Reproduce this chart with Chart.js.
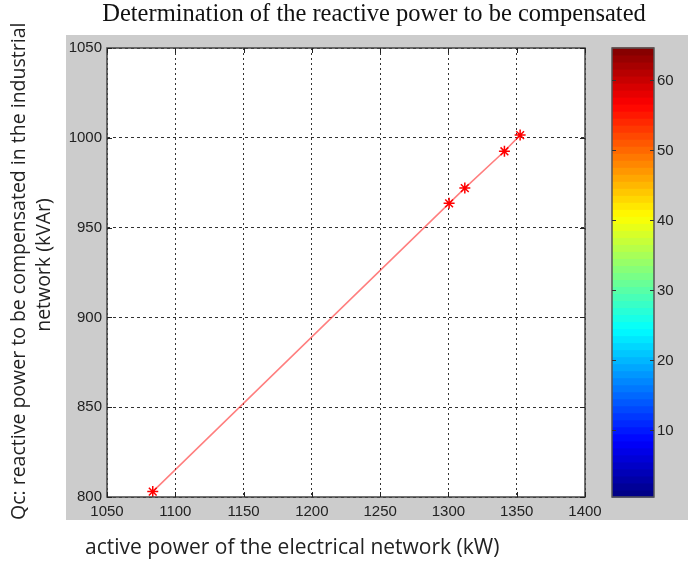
<!DOCTYPE html>
<html>
<head>
<meta charset="utf-8">
<script src="https://cdn.jsdelivr.net/npm/chart.js@4.4.0/dist/chart.umd.min.js"></script>
<style>
  html, body { margin: 0; padding: 0; background: #fff; }
  #wrap { width: 688px; height: 562px; }
</style>
</head>
<body>
<div id="wrap"><canvas id="qc-chart" width="688" height="562"></canvas></div>
<script>
// measured points (kW, kVAr)
const activePower = [1083.5, 1300.5, 1312, 1341, 1352.5];
const reactivePower = [803, 963.5, 972, 992.5, 1001.5];

const xTicks = [1050, 1100, 1150, 1200, 1250, 1300, 1350, 1400];
const yTicks = [800, 850, 900, 950, 1000, 1050];

// colorbar (jet, 64 levels)
const colorLevels = 64;
const colorTicks = [10, 20, 30, 40, 50, 60];

const titleText = 'Determination of the reactive power to be compensated';
const yLabel = ['Qc: reactive power to be compensated in the industrial', 'network (kVAr)'];
const xLabel = 'active power of the electrical network (kW)';

function jet(i, n) {
    const t = (i + 0.5) / n;
    const c = v => Math.round(255 * Math.max(0, Math.min(1, v)));
    const r = c(1.5 - Math.abs(4 * t - 3));
    const g = c(1.5 - Math.abs(4 * t - 2));
    const b = c(1.5 - Math.abs(4 * t - 1));
    return `rgb(${r},${g},${b})`;
}

const figure = {
    id: 'figure',
    beforeDraw(chart) {
        const ctx = chart.ctx;
        ctx.save();
        ctx.fillStyle = '#fff';
        ctx.fillRect(0, 0, chart.width, chart.height);
        ctx.fillStyle = '#cccccc';
        ctx.fillRect(66, 35, chart.width - 66, 485);
        const a = chart.chartArea;
        ctx.fillStyle = '#fff';
        ctx.fillRect(a.left, a.top, a.right - a.left, a.bottom - a.top);
        ctx.restore();
    },
    afterDraw(chart) {
        const ctx = chart.ctx;
        const a = chart.chartArea;
        const xs = chart.scales.x, ys = chart.scales.y;
        ctx.save();

        // axes box + inner ticks
        ctx.strokeStyle = '#444';
        ctx.lineWidth = 1.5;
        ctx.strokeRect(a.left, a.top, a.right - a.left, a.bottom - a.top);
        ctx.lineWidth = 1;
        ctx.strokeStyle = '#222';
        ctx.beginPath();
        xTicks.forEach(v => {
            const x = Math.round(xs.getPixelForValue(v)) + 0.5;
            ctx.moveTo(x, a.bottom); ctx.lineTo(x, a.bottom - 5);
            ctx.moveTo(x, a.top); ctx.lineTo(x, a.top + 5);
        });
        yTicks.forEach(v => {
            const y = Math.round(ys.getPixelForValue(v)) + 0.5;
            ctx.moveTo(a.left, y); ctx.lineTo(a.left + 5, y);
            ctx.moveTo(a.right, y); ctx.lineTo(a.right - 5, y);
        });
        ctx.stroke();

        // colorbar
        const cbL = 612, cbR = 654, cbT = a.top, cbB = a.bottom;
        const band = (cbB - cbT) / colorLevels;
        for (let i = 0; i < colorLevels; i++) {
            ctx.fillStyle = jet(i, colorLevels);
            ctx.fillRect(cbL, cbB - (i + 1) * band - 0.5, cbR - cbL, band + 1);
        }
        ctx.strokeStyle = '#555';
        ctx.lineWidth = 1.5;
        ctx.strokeRect(cbL, cbT, cbR - cbL, cbB - cbT);
        ctx.lineWidth = 1;
        ctx.strokeStyle = '#333';
        ctx.fillStyle = '#222';
        ctx.font = '15px "Liberation Sans", Arial, sans-serif';
        ctx.textAlign = 'left';
        ctx.textBaseline = 'middle';
        colorTicks.forEach(v => {
            const y = Math.round(cbB - (v - 0.5) / colorLevels * (cbB - cbT)) + 0.5;
            ctx.beginPath();
            ctx.moveTo(cbL, y); ctx.lineTo(cbL + 4, y);
            ctx.moveTo(cbR, y); ctx.lineTo(cbR - 4, y);
            ctx.stroke();
            ctx.fillText(String(v), cbR + 3, y);
        });

        // title
        ctx.fillStyle = '#111';
        ctx.font = '24.5px "Liberation Serif", "Times New Roman", serif';
        ctx.textAlign = 'center';
        ctx.fillText(titleText, 374, 15);

        // x label
        ctx.font = '21px "Open Sans", sans-serif';
        ctx.textAlign = 'left';
        ctx.fillStyle = '#222';
        ctx.fillText(xLabel, 85, 548);

        // y label (rotated, two lines)
        ctx.font = '19.5px "Open Sans", sans-serif';
        ctx.rotate(-Math.PI / 2);
        ctx.textAlign = 'left';
        ctx.fillText(yLabel[0], -520, 19);
        ctx.textAlign = 'center';
        ctx.fillText(yLabel[1], -265, 44);
        ctx.restore();
    }
};

new Chart(document.getElementById('qc-chart').getContext('2d'), {
    type: 'scatter',
    data: {
        datasets: [{
            data: activePower.map((x, i) => ({x: x, y: reactivePower[i]})),
            showLine: true,
            borderColor: 'rgba(255,40,40,0.6)',
            borderWidth: 1.5,
            pointStyle: 'star',
            pointRadius: 5.5,
            pointBorderColor: '#ff0000',
            pointBorderWidth: 1.5,
            pointBackgroundColor: '#ff0000'
        }]
    },
    options: {
        responsive: false,
        animation: false,
        layout: { padding: { top: 48, right: 103, left: 0, bottom: 0 } },
        plugins: {
            legend: { display: false },
            tooltip: { enabled: false },
            title: { display: false }
        },
        scales: {
            x: {
                type: 'linear',
                min: 1050,
                max: 1400,
                afterBuildTicks: s => { s.ticks = xTicks.map(v => ({value: v})); },
                afterFit: s => { s.height = 65; },
                grid: { color: '#333', lineWidth: 1, drawTicks: false },
                border: { display: false, dash: [2, 3] },
                ticks: {
                    padding: 6,
                    color: '#222',
                    font: { family: '"Liberation Sans", Arial, sans-serif', size: 15 },
                    callback: v => String(v)
                }
            },
            y: {
                type: 'linear',
                min: 800,
                max: 1050,
                afterBuildTicks: s => { s.ticks = yTicks.map(v => ({value: v})); },
                afterFit: s => { s.width = 107; },
                grid: { color: '#333', lineWidth: 1, drawTicks: false },
                border: { display: false, dash: [3, 3] },
                ticks: {
                    padding: 5,
                    color: '#222',
                    font: { family: '"Liberation Sans", Arial, sans-serif', size: 15 },
                    callback: v => String(v)
                }
            }
        }
    },
    plugins: [figure]
});
</script>
</body>
</html>
